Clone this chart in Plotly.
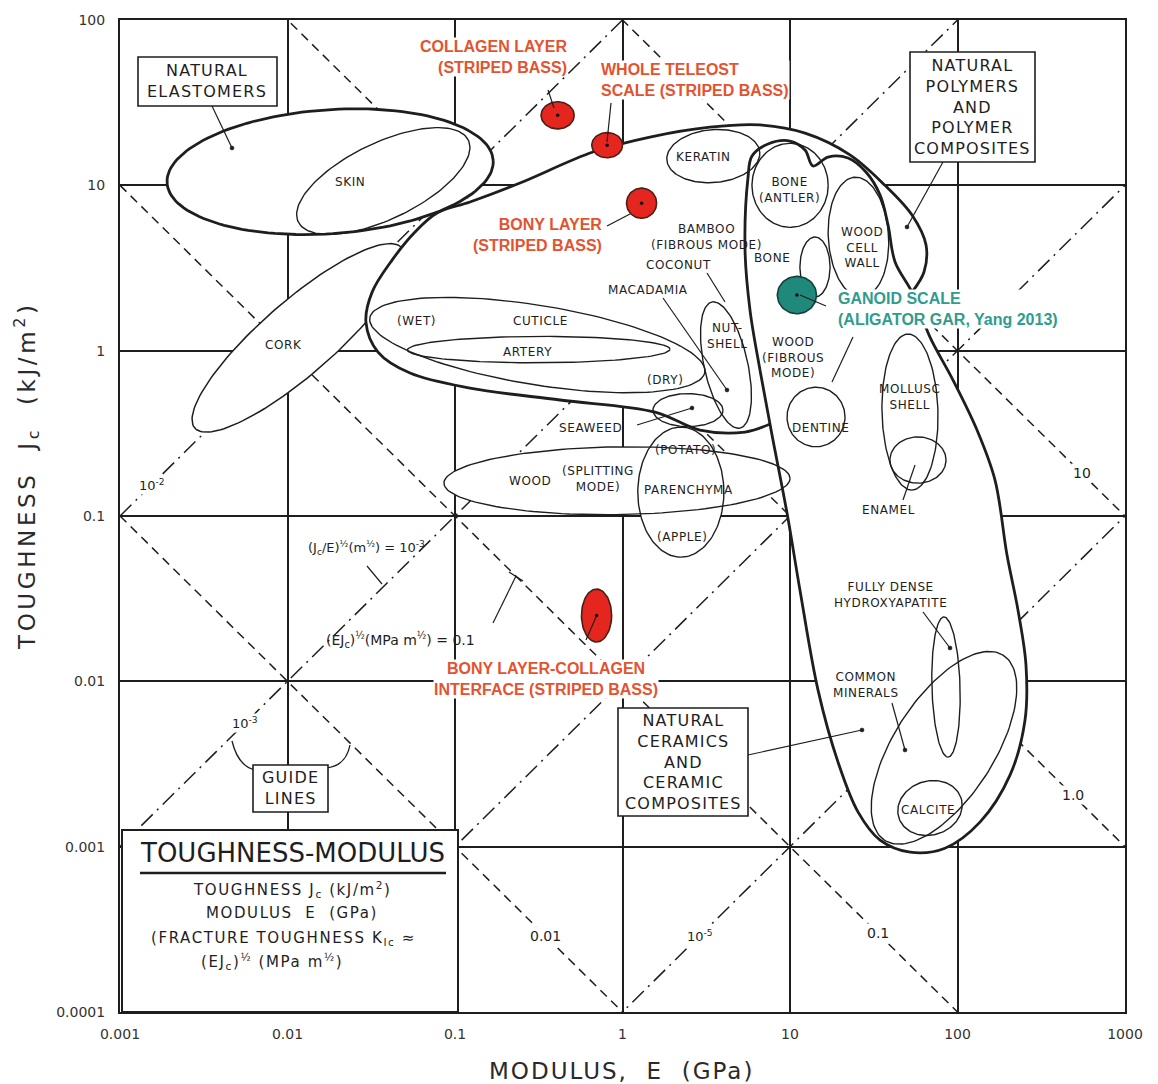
import numpy as np
import plotly.graph_objects as go

# ---------------- axis ticks ----------------
modulus_ticks = [0.001, 0.01, 0.1, 1, 10, 100, 1000]
modulus_tick_text = ["0.001", "0.01", "0.1", "1", "10", "100", "1000"]
toughness_ticks = [0.0001, 0.001, 0.01, 0.1, 1, 10, 100]
toughness_tick_text = ["0.0001", "0.001", "0.01", "0.1", "1", "10", "100"]

# ---------------- guide lines ----------------
# (E*Jc)^1/2 in MPa m^1/2  (E in GPa, Jc in kJ/m^2 -> E*Jc = K^2)
fracture_toughness_K = [0.01, 0.1, 1.0, 10.0]
fracture_toughness_text = ["0.01", "0.1", "1.0", "10"]
# (Jc/E)^1/2 in m^1/2  (Jc/E = s^2 / 1e-6)
crack_length_root = [1e-2, 1e-3, 1e-4, 1e-5]
crack_length_text = ["10<sup>-2</sup>", "10<sup>-3</sup>", "10<sup>-4</sup>", "10<sup>-5</sup>"]

# ---------------- material bubbles ----------------
# each bubble spans (E1, J1) -> (E2, J2) along its main axis, with a half-spread (decades) across it
bubble_names = ["cork", "natural elastomers", "skin", "cuticle", "artery", "keratin",
                "nut shell", "seaweed", "wood splitting", "parenchyma", "bone antler",
                "bone", "wood cell wall", "dentine", "mollusc shell", "enamel",
                "hydroxyapatite", "common minerals", "calcite"]
bubble_E1 = [0.0028, 0.00191, 0.0116, 0.031, 0.052, 1.84, 3.42, 1.52, 0.0859, 2.23, 5.93,
             14.1, 24.4, 9.60, 50.6, 39.5, 83.0, 36.9, 44.7]
bubble_J1 = [0.34, 10.3, 6.0, 1.58, 1.01, 14.2, 1.97, 0.437, 0.158, 0.345, 10.0,
             4.87, 11.2, 0.397, 1.26, 0.218, 0.0245, 0.00109, 0.00149]
bubble_E2 = [0.048, 0.169, 0.120, 3.1, 1.92, 6.6, 5.03, 3.98, 10.0, 2.23, 16.9,
             14.1, 26.9, 21.3, 53.5, 85.4, 87.8, 187.0, 105.0]
bubble_J2 = [4.2, 14.2, 18.8, 0.74, 1.02, 15.9, 0.34, 0.437, 0.169, 0.0564, 10.0,
             2.11, 2.11, 0.397, 0.1435, 0.218, 0.00348, 0.0144, 0.00197]
bubble_spread = [0.22, 0.375, 0.23, 0.24, 0.08, 0.16, 0.13, 0.10, 0.205, 0.257, 0.254,
                 0.09, 0.18, 0.18, 0.167, 0.14, 0.084, 0.30, 0.163]

# ---------------- class envelopes ----------------
polymers_E = [7.60, 5.39, 2.90, 1.563, 0.4235, 0.1229, 0.0539, 0.0347, 0.0294, 0.0320,
              0.0421, 0.0577, 0.0781, 0.1229, 0.2443, 0.6667, 1.459, 3.33, 6.62, 12.3,
              22.8, 36.9, 53.5, 64.9, 63.1, 53.5]
polymers_J = [0.360, 0.322, 0.331, 0.425, 0.503, 0.594, 0.732, 0.981, 1.49, 2.26,
              3.53, 5.22, 6.80, 7.93, 10.33, 15.9, 19.6, 22.5, 23.2, 20.7,
              15.3, 10.0, 6.61, 4.35, 2.99, 2.26]

ceramics_E = [5.61, 5.93, 7.39, 10.0, 12.29, 13.72, 16.86, 22.2, 28.4, 34.5, 38.5, 42.4,
              53.5, 68.5, 94.0, 130.8, 167.5, 197.5, 229.7, 256.4, 252.9, 205.8, 136.2,
              84.2, 52.1, 34.5, 25.5, 19.35, 14.70, 11.47, 9.60, 7.81, 6.62, 5.77, 5.39]
ceramics_J = [11.07, 15.04, 17.78, 18.53, 16.35, 13.09, 14.83, 14.63, 12.04, 8.74, 5.75, 3.44,
              2.26, 1.208, 0.664, 0.331, 0.1649, 0.058, 0.02696, 0.01253, 0.00582, 0.002707,
              0.001407, 0.000979, 0.000926, 0.001095, 0.001617, 0.003245, 0.00885, 0.0356,
              0.1041, 0.3086, 0.763, 1.76, 4.06]

# ---------------- fish scale measurements ----------------
scale_names = ["collagen layer", "whole teleost scale", "bony layer",
               "bony layer-collagen interface", "ganoid scale"]
scale_E = [0.41, 0.81, 1.30, 0.70, 11.0]
scale_J = [26.5, 17.5, 7.8, 0.025, 2.17]

# ---------------- styling ----------------
INK = "#1e1e1e"
RED = "#e5261f"
RED_TEXT = "#e4532f"
TEAL = "#1f8a7b"
TEAL_TEXT = "#2f9c8d"
FONT = "DejaVu Sans"
BOLD_FONT = "Liberation Sans"
THICK_BUBBLES = {"natural elastomers"}
# half-sizes (decades) of the scale markers
scale_half_sizes = [(0.099, 0.082), (0.092, 0.076), (0.09, 0.091), (0.09, 0.16), (0.117, 0.113)]

W, H = 1158, 1084
PL, PR, PT, PB = 120, 1125, 20, 1012


def px(x):
    return (x - PL) / (PR - PL)


def py(y):
    return (PB - y) / (PB - PT)


def spaced(text, px_gap):
    return '<span style="letter-spacing:{}px">{}</span>'.format(px_gap, text)


def ellipse(E1, J1, E2, J2, spread, n=140):
    x1, y1, x2, y2 = np.log10(E1), np.log10(J1), np.log10(E2), np.log10(J2)
    cx, cy = (x1 + x2) / 2, (y1 + y2) / 2
    dx, dy = (x2 - x1) / 2, (y2 - y1) / 2
    a = np.hypot(dx, dy)
    ux, uy = dx / a, dy / a
    vx, vy = -uy, ux
    t = np.linspace(0, 2 * np.pi, n)
    X = cx + a * np.cos(t) * ux + spread * np.sin(t) * vx
    Y = cy + a * np.cos(t) * uy + spread * np.sin(t) * vy
    return 10 ** X, 10 ** Y


def axis_ellipse(E, J, hx, hy, n=80):
    t = np.linspace(0, 2 * np.pi, n)
    return 10 ** (np.log10(E) + hx * np.cos(t)), 10 ** (np.log10(J) + hy * np.sin(t))


fig = go.Figure()


def add_fill(E, J, spline=False):
    fig.add_trace(go.Scatter(
        x=E, y=J, mode="lines", fill="toself", fillcolor="white",
        line=dict(width=0, color="white", shape="spline" if spline else "linear"),
        hoverinfo="skip", showlegend=False))


def add_outline(E, J, width, spline=False):
    fig.add_trace(go.Scatter(
        x=E, y=J, mode="lines",
        line=dict(width=width, color=INK, shape="spline" if spline else "linear"),
        hoverinfo="skip", showlegend=False))


# guide lines across the whole chart
E_span = np.array([1e-3, 1e3])
for K in fracture_toughness_K:
    fig.add_trace(go.Scatter(x=E_span, y=K ** 2 / E_span, mode="lines",
                             line=dict(color=INK, width=1.5, dash="9px,6px"),
                             hoverinfo="skip", showlegend=False))
for s in crack_length_root:
    ratio = s ** 2 / 1e-6
    fig.add_trace(go.Scatter(x=E_span, y=ratio * E_span, mode="lines",
                             line=dict(color=INK, width=1.5, dash="16px,6px,2px,6px"),
                             hoverinfo="skip", showlegend=False))

shapes_xy = {}
for i, name in enumerate(bubble_names):
    shapes_xy[name] = ellipse(bubble_E1[i], bubble_J1[i], bubble_E2[i], bubble_J2[i], bubble_spread[i])

# cork sits under the polymer envelope
add_fill(*shapes_xy["cork"])
add_outline(*shapes_xy["cork"], 1.5)

# white fills first, then every outline on top
add_fill(polymers_E, polymers_J, spline=True)
add_fill(*shapes_xy["natural elastomers"])
add_fill(ceramics_E, ceramics_J, spline=True)
for name in bubble_names:
    if name not in ("cork", "natural elastomers"):
        add_fill(*shapes_xy[name])

add_outline(polymers_E, polymers_J, 2.8, spline=True)
add_outline(ceramics_E + ceramics_E[:1], ceramics_J + ceramics_J[:1], 2.8, spline=True)
for name in bubble_names:
    if name == "cork":
        continue
    add_outline(*shapes_xy[name], 2.8 if name in THICK_BUBBLES else 1.4)

# fish scale measurements
for i, name in enumerate(scale_names):
    hx, hy = scale_half_sizes[i]
    ex, jy = axis_ellipse(scale_E[i], scale_J[i], hx, hy)
    color = TEAL if name == "ganoid scale" else RED
    edge = "#173f3a" if name == "ganoid scale" else "#4a2018"
    fig.add_trace(go.Scatter(x=ex, y=jy, mode="lines", fill="toself", fillcolor=color,
                             line=dict(color=edge, width=1.6), name=name,
                             hoverinfo="name", showlegend=False))
fig.add_trace(go.Scatter(x=scale_E, y=scale_J, mode="markers",
                         marker=dict(color="#111", size=3.5), hoverinfo="skip", showlegend=False))

# ---------------- layout decorations ----------------
shapes = []


def box(x0, y0, x1, y1, width=1.6):
    shapes.append(dict(type="rect", xref="paper", yref="paper", x0=px(x0), x1=px(x1),
                       y0=py(y1), y1=py(y0), line=dict(color=INK, width=width),
                       fillcolor="white", layer="above"))


def seg(p, q, width=1.2, color=INK):
    shapes.append(dict(type="line", xref="paper", yref="paper", x0=px(p[0]), y0=py(p[1]),
                       x1=px(q[0]), y1=py(q[1]), line=dict(color=color, width=width),
                       layer="above"))


def dot(p, r=2.0):
    shapes.append(dict(type="circle", xref="paper", yref="paper",
                       x0=px(p[0] - r), x1=px(p[0] + r), y0=py(p[1] + r), y1=py(p[1] - r),
                       line=dict(color=INK, width=0.5), fillcolor=INK, layer="above"))


def arc(p, c, q, width=1.3):
    path = "M {},{} Q {},{} {},{}".format(px(p[0]), py(p[1]), px(c[0]), py(c[1]), px(q[0]), py(q[1]))
    shapes.append(dict(type="path", xref="paper", yref="paper", path=path,
                       line=dict(color=INK, width=width), layer="above"))


# leader lines
leaders = [((212, 106), (232, 148)), ((943, 162), (907, 227)), ((748, 755), (862, 730)),
           ((663, 298), (727, 390)), ((707, 273), (725, 302)), ((637, 425), (692, 408)),
           ((903, 500), (915, 465)), ((923, 612), (950, 648)), ((892, 703), (905, 750)),
           ((853, 337), (832, 382)), ((367, 566), (382, 584)), ((493, 623), (516, 576)),
           ((548, 90), (554, 108)), ((611, 103), (607, 142)), ((607, 226), (630, 214)),
           ((586, 640), (596, 617)), ((800, 295), (826, 306))]
for p, q in leaders:
    seg(p, q)
for p in [(232, 148), (907, 227), (862, 730), (727, 390), (692, 408), (905, 750), (950, 648)]:
    dot(p)
seg((509, 572), (523, 581), 1.4)

# guide-line callout arcs
arc((255, 770), (238, 766), (232, 741))
arc((326, 768), (346, 766), (350, 745))

# label boxes
box(138, 57, 277, 106)
box(910, 52, 1035, 162)
box(618, 708, 748, 816)
box(253, 765, 328, 812)
box(122, 830, 458, 1012, width=2.0)
seg((140, 873), (446, 873), 2.6)

annotations = []


def label(x, y, text, size=12, color=INK, xanchor="center", align="center",
          family=FONT, bg=None, angle=0):
    a = dict(x=px(x), y=py(y), xref="paper", yref="paper", text=text, showarrow=False,
             xanchor=xanchor, yanchor="middle", align=align, textangle=angle,
             font=dict(family=family, size=size, color=color))
    if bg:
        a["bgcolor"] = bg
        a["borderpad"] = 0
    annotations.append(a)


# axis titles (spaced lettering)
label(26, 476, spaced("TOUGHNESS  J<sub>c</sub>  (kJ/m<sup>2</sup>)", 3.6), size=23, color="#2a2a2a", angle=-90)
label(621, 1071, spaced("MODULUS,  E  (GPa)", 2), size=23, color="#2a2a2a")

# class boxes
label(207, 81, spaced("NATURAL<br>ELASTOMERS", 1.2), size=16)
label(972, 107, spaced("NATURAL<br>POLYMERS<br>AND<br>POLYMER<br>COMPOSITES", 1.2), size=16)
label(683, 762, spaced("NATURAL<br>CERAMICS<br>AND<br>CERAMIC<br>COMPOSITES", 1.2), size=16)
label(290, 788, spaced("GUIDE<br>LINES", 1.2), size=16)

# chart key box
label(292, 853, "TOUGHNESS-MODULUS", size=26)
label(292, 889, spaced("TOUGHNESS J<sub>c</sub> (kJ/m<sup>2</sup>)", 1.6), size=15)
label(292, 913, spaced("MODULUS  E  (GPa)", 1.6), size=15)
label(283, 938, spaced("(FRACTURE TOUGHNESS K<sub>Ic</sub> ≈", 1.6), size=15)
label(272, 961, spaced("(EJ<sub>c</sub>)<sup>½</sup> (MPa m<sup>½</sup>)", 1.6), size=15)

# guide-line notes
label(366, 548, "(J<sub>c</sub>/E)<sup>½</sup>(m<sup>½</sup>) = 10<sup>-3</sup>", size=13)
label(400, 640, "(EJ<sub>c</sub>)<sup>½</sup>(MPa m<sup>½</sup>) = 0.1", size=14)

# guide-line values, placed on their lines
K_LABEL_AT_E = [0.345, 33.5, 489.0, 553.0]
for K, txt, e_at in zip(fracture_toughness_K, fracture_toughness_text, K_LABEL_AT_E):
    annotations.append(dict(x=np.log10(e_at), y=np.log10(K ** 2 / e_at), xref="x", yref="y",
                            text=txt, showarrow=False, bgcolor="white", borderpad=1,
                            font=dict(family=FONT, size=14, color=INK)))
S_LABEL_AT_E = {1e-2: 0.00155, 1e-3: 0.0056, 1e-5: 2.9}
for s, txt in zip(crack_length_root, crack_length_text):
    if s in S_LABEL_AT_E:
        e_at = S_LABEL_AT_E[s]
        annotations.append(dict(x=np.log10(e_at), y=np.log10(s ** 2 / 1e-6 * e_at),
                                xref="x", yref="y", text=txt, showarrow=False,
                                bgcolor="white", borderpad=1,
                                font=dict(family=FONT, size=13, color=INK)))

# material names
small_labels = [
    (350, 182, "SKIN"), (703, 157, "KERATIN"), (789, 190, "BONE<br>(ANTLER)"),
    (706, 237, "BAMBOO<br>(FIBROUS MODE)"), (678, 265, "COCONUT"), (648, 290, "MACADAMIA"),
    (727, 336, "NUT-<br>SHELL"), (862, 247, "WOOD<br>CELL<br>WALL"), (772, 258, "BONE"),
    (793, 357, "WOOD<br>(FIBROUS<br>MODE)"), (416, 321, "(WET)"), (540, 321, "CUTICLE"),
    (527, 352, "ARTERY"), (283, 345, "CORK"), (665, 380, "(DRY)"), (590, 428, "SEAWEED"),
    (685, 450, "(POTATO)"), (530, 481, "WOOD"), (598, 479, "(SPLITTING<br>MODE)"),
    (688, 490, "PARENCHYMA"), (682, 537, "(APPLE)"), (820, 428, "DENTINE"),
    (910, 397, "MOLLUSC<br>SHELL"), (888, 510, "ENAMEL"),
    (890, 595, "FULLY DENSE<br>HYDROXYAPATITE"), (866, 685, "COMMON<br>MINERALS"),
    (928, 810, "CALCITE"),
]
for x, y, t in small_labels:
    label(x, y, spaced(t, 0.6), size=12)

# fish scale labels
label(568, 57, "<b>COLLAGEN LAYER<br>(STRIPED BASS)</b>", size=16, color=RED_TEXT,
      xanchor="right", align="right", family=BOLD_FONT, bg="white")
label(600, 80, "<b>WHOLE TELEOST<br>SCALE (STRIPED BASS)</b>", size=16, color=RED_TEXT,
      xanchor="left", align="left", family=BOLD_FONT, bg="white")
label(603, 235, "<b>BONY LAYER<br>(STRIPED BASS)</b>", size=16, color=RED_TEXT,
      xanchor="right", align="right", family=BOLD_FONT, bg="white")
label(546, 679, "<b>BONY LAYER-COLLAGEN<br>INTERFACE (STRIPED BASS)</b>", size=16,
      color=RED_TEXT, family=BOLD_FONT, bg="white")
label(837, 309, "<b>GANOID SCALE<br>(ALIGATOR GAR, Yang 2013)</b>", size=16,
      color=TEAL_TEXT, xanchor="left", align="left", family=BOLD_FONT, bg="white")

axis_common = dict(type="log", showgrid=True, gridcolor=INK, gridwidth=1.5, showline=True,
                   mirror=True, linecolor=INK, linewidth=2, ticks="", zeroline=False,
                   tickfont=dict(family=FONT, size=14, color="#333"))
fig.update_layout(
    width=W, height=H,
    margin=dict(l=PL, r=W - PR, t=PT, b=H - PB),
    paper_bgcolor="white", plot_bgcolor="white",
    xaxis=dict(range=[-3, 3], tickvals=modulus_ticks, ticktext=modulus_tick_text,
               ticklabelstandoff=8, **axis_common),
    yaxis=dict(range=[-4, 2], tickvals=toughness_ticks, ticktext=toughness_tick_text,
               ticklabelstandoff=10, **axis_common),
    shapes=shapes, annotations=annotations, showlegend=False,
)

fig.write_html("out.html")
